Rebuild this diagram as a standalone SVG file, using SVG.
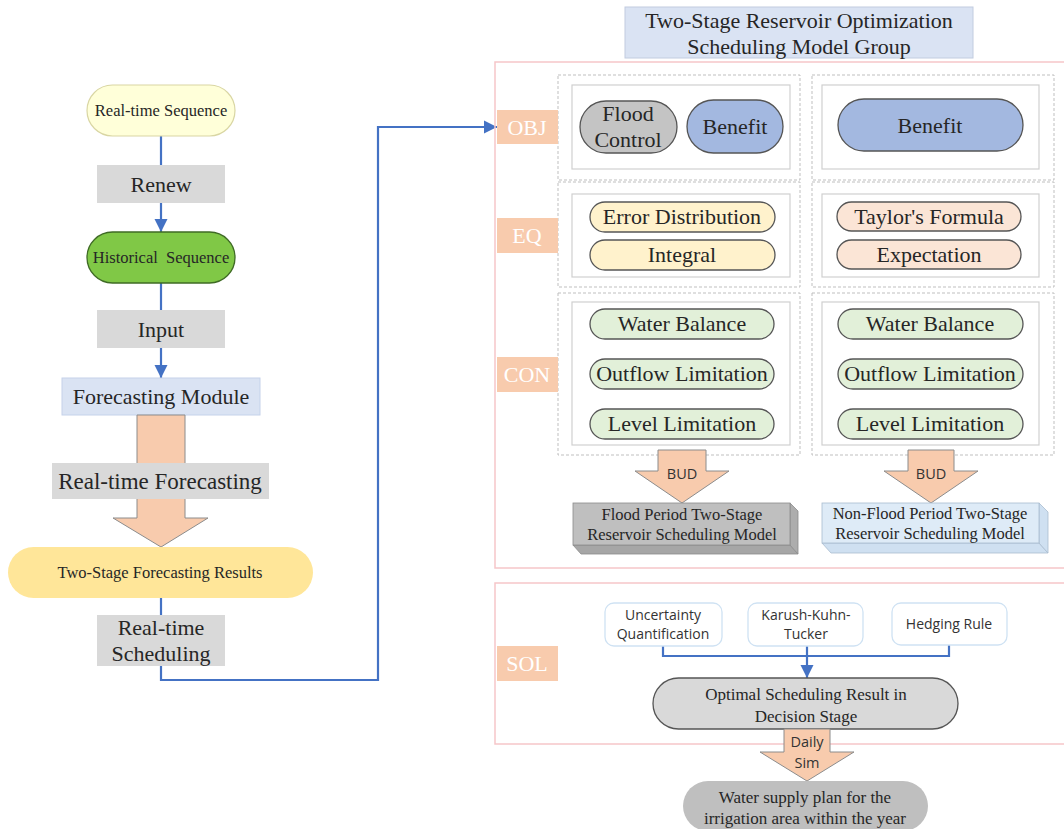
<svg xmlns="http://www.w3.org/2000/svg" width="1064" height="829" viewBox="0 0 1064 829">
<defs>
<marker id="ah" viewBox="0 0 10 10" refX="10" refY="5" markerWidth="6" markerHeight="6" orient="auto" markerUnits="strokeWidth">
<path d="M0,0 L10,5 L0,10 z" fill="#4472C4"/>
</marker>
<style>
.ser{font-family:"Liberation Serif","Times New Roman",serif;fill:#262626;text-anchor:middle}
.san{font-family:"Open Sans","Liberation Sans",sans-serif;fill:#333;text-anchor:middle}
.gray{fill:#D9D9D9}
.conn{fill:none;stroke:#4472C4;stroke-width:2.2}
.lbl{fill:#F8CBAD}
.lt{font-family:"Liberation Serif","Times New Roman",serif;fill:#fff;font-size:22px;text-anchor:middle}
.dash{fill:none;stroke:#BFBFBF;stroke-width:1;stroke-dasharray:3 2}
.inner{fill:#fff;stroke:#D0D0D0;stroke-width:1.2}
.pink{fill:none;stroke:#F6C6C9;stroke-width:1.5}
.pk{stroke:#555;stroke-width:1.3}
.peach{fill:#F8CBAD;stroke:#8C8C8C;stroke-width:1}
.sol{fill:#fff;stroke:#CFE2F3;stroke-width:1.3}
</style>
</defs>
<rect width="1064" height="829" fill="#fff"/>

<g id="connectors">
<line class="conn" x1="161" y1="136" x2="161" y2="165"/>
<line class="conn" x1="161" y1="203" x2="161" y2="232" marker-end="url(#ah)"/>
<line class="conn" x1="161" y1="283" x2="161" y2="310"/>
<line class="conn" x1="161" y1="348" x2="161" y2="378" marker-end="url(#ah)"/>
<line class="conn" x1="161" y1="598" x2="161" y2="615"/>
<polyline class="conn" points="161,666 161,680 378,680 378,127 497,127" marker-end="url(#ah)"/>
<polyline class="conn" points="663,646 663,656 949,656 949,645"/>
<line class="conn" x1="807" y1="646" x2="807" y2="678" marker-end="url(#ah)"/>
</g>

<g id="real-time-sequence">
<rect x="87" y="85" width="148" height="51" rx="25.5" fill="#FFFFD9" stroke="#D9D6A3" stroke-width="1.2"/>
<text class="ser" x="161" y="116" font-size="16.5">Real-time Sequence</text>
</g>
<g id="renew">
<rect class="gray" x="97" y="165" width="128" height="38"/>
<text class="ser" x="161" y="192" font-size="22">Renew</text>
</g>
<g id="historical-sequence">
<rect x="87" y="232" width="148" height="51" rx="25.5" fill="#80C846" stroke="#3F6B25" stroke-width="1.3"/>
<text class="ser" x="161" y="263" font-size="16.5" fill="#1a2a10" xml:space="preserve">Historical  Sequence</text>
</g>
<g id="input">
<rect class="gray" x="97" y="310" width="128" height="38"/>
<text class="ser" x="161" y="337" font-size="22">Input</text>
</g>
<g id="forecasting-module">
<rect x="62" y="378" width="198" height="37" fill="#DAE3F3" stroke="#C5D2EA" stroke-width="1"/>
<text class="ser" x="161" y="404" font-size="22">Forecasting Module</text>
</g>
<g id="forecast-arrow">
<path class="peach" d="M137,415 L185,415 L185,518 L208,518 L161,547 L113,518 L137,518 Z"/>
</g>
<g id="real-time-forecasting">
<rect class="gray" x="52" y="463" width="217" height="36"/>
<text class="ser" x="160" y="489" font-size="23">Real-time Forecasting</text>
</g>
<g id="two-stage-forecasting-results">
<rect x="8" y="547" width="305" height="51" rx="25.5" fill="#FFE699"/>
<text class="ser" x="160" y="578" font-size="16.5">Two-Stage Forecasting Results</text>
</g>
<g id="real-time-scheduling">
<rect class="gray" x="97" y="615" width="128" height="51"/>
<text class="ser" x="161" y="635" font-size="22">Real-time</text>
<text class="ser" x="161" y="661" font-size="22">Scheduling</text>
</g>

<g id="title">
<rect x="625" y="7" width="348" height="51" fill="#DAE3F3" stroke="#C2CCDF" stroke-width="1"/>
<text class="ser" x="799" y="28" font-size="22">Two-Stage Reservoir Optimization</text>
<text class="ser" x="799" y="54" font-size="22">Scheduling Model Group</text>
</g>

<g id="model-panel">
<rect class="pink" x="495" y="62" width="600" height="506"/>
<rect class="dash" x="558" y="75" width="242" height="105"/>
<rect class="dash" x="812" y="75" width="242" height="105"/>
<rect class="dash" x="558" y="182" width="242" height="105"/>
<rect class="dash" x="812" y="182" width="242" height="105"/>
<rect class="dash" x="558" y="293" width="242" height="162"/>
<rect class="dash" x="812" y="293" width="242" height="162"/>
<rect class="inner" x="572" y="85" width="218" height="84"/>
<rect class="inner" x="822" y="85" width="217" height="84"/>
<rect class="inner" x="572" y="194" width="218" height="83"/>
<rect class="inner" x="822" y="194" width="217" height="83"/>
<rect class="inner" x="572" y="302" width="218" height="143"/>
<rect class="inner" x="822" y="302" width="217" height="143"/>
</g>

<g id="label-obj">
<rect class="lbl" x="497" y="110" width="61" height="34"/>
<text class="lt" x="527" y="135">OBJ</text>
</g>
<g id="label-eq">
<rect class="lbl" x="497" y="218" width="61" height="35"/>
<text class="lt" x="527" y="243">EQ</text>
</g>
<g id="label-con">
<rect class="lbl" x="497" y="357" width="61" height="35"/>
<text class="lt" x="527" y="382">CON</text>
</g>

<g id="flood-control">
<rect class="pk" x="580" y="101" width="97" height="52" rx="26" fill="#C4C4C4"/>
<text class="ser" x="628" y="121" font-size="22">Flood</text>
<text class="ser" x="628" y="147" font-size="22">Control</text>
</g>
<g id="benefit-flood">
<rect class="pk" x="687" y="100" width="96" height="53" rx="26.5" fill="#A3B8E0"/>
<text class="ser" x="735" y="134" font-size="22">Benefit</text>
</g>
<g id="benefit-nonflood">
<rect class="pk" x="838" y="99" width="185" height="52" rx="26" fill="#A3B8E0"/>
<text class="ser" x="930" y="133" font-size="22">Benefit</text>
</g>
<g id="error-distribution">
<rect class="pk" x="590" y="202" width="185" height="30" rx="15" fill="#FFF2CC"/>
<text class="ser" x="682" y="224" font-size="22">Error Distribution</text>
</g>
<g id="integral">
<rect class="pk" x="590" y="240" width="185" height="30" rx="15" fill="#FFF2CC"/>
<text class="ser" x="682" y="262" font-size="22">Integral</text>
</g>
<g id="taylors-formula">
<rect class="pk" x="837" y="202" width="184" height="29" rx="14.5" fill="#FBE5D6"/>
<text class="ser" x="929" y="224" font-size="22">Taylor's Formula</text>
</g>
<g id="expectation">
<rect class="pk" x="837" y="240" width="184" height="29" rx="14.5" fill="#FBE5D6"/>
<text class="ser" x="929" y="262" font-size="22">Expectation</text>
</g>

<g id="water-balance-1">
<rect class="pk" x="590" y="309" width="184" height="30" rx="15" fill="#E2F0D9"/>
<text class="ser" x="682" y="331" font-size="22">Water Balance</text>
</g>
<g id="outflow-limitation-1">
<rect class="pk" x="590" y="359" width="184" height="30" rx="15" fill="#E2F0D9"/>
<text class="ser" x="682" y="381" font-size="22">Outflow Limitation</text>
</g>
<g id="level-limitation-1">
<rect class="pk" x="590" y="409" width="184" height="30" rx="15" fill="#E2F0D9"/>
<text class="ser" x="682" y="431" font-size="22">Level Limitation</text>
</g>
<g id="water-balance-2">
<rect class="pk" x="838" y="309" width="185" height="30" rx="15" fill="#E2F0D9"/>
<text class="ser" x="930" y="331" font-size="22">Water Balance</text>
</g>
<g id="outflow-limitation-2">
<rect class="pk" x="838" y="359" width="185" height="30" rx="15" fill="#E2F0D9"/>
<text class="ser" x="930" y="381" font-size="22">Outflow Limitation</text>
</g>
<g id="level-limitation-2">
<rect class="pk" x="838" y="409" width="185" height="30" rx="15" fill="#E2F0D9"/>
<text class="ser" x="930" y="431" font-size="22">Level Limitation</text>
</g>

<g id="bud-left">
<path class="peach" d="M658,450 L706,450 L706,471 L729,471 L682,503 L635,471 L658,471 Z"/>
<text class="san" x="682" y="479" font-size="14.5" font-weight="500" fill="#262626">BUD</text>
</g>
<g id="bud-right">
<path class="peach" d="M908,450 L954,450 L954,471 L978,471 L931,503 L884,471 L908,471 Z"/>
<text class="san" x="931" y="479" font-size="14.5" font-weight="500" fill="#262626">BUD</text>
</g>

<g id="flood-period-model">
<polygon points="573,545 790,545 798,554 581,554" fill="#A6A6A6" stroke="#8C8C8C" stroke-width="0.8"/>
<polygon points="790,503 798,511 798,554 790,545" fill="#ADADAD" stroke="#8C8C8C" stroke-width="0.8"/>
<rect x="573" y="503" width="217" height="42" fill="#BFBFBF" stroke="#8C8C8C" stroke-width="0.8"/>
<text class="ser" x="682" y="520" font-size="16.5">Flood Period Two-Stage</text>
<text class="ser" x="682" y="540" font-size="16.5">Reservoir Scheduling Model</text>
</g>
<g id="non-flood-period-model">
<polygon points="822,543 1039,543 1048,553 831,553" fill="#CFE0F1" stroke="#A9BCCF" stroke-width="0.8"/>
<polygon points="1039,503 1048,512 1048,553 1039,543" fill="#CFE0F1" stroke="#A9BCCF" stroke-width="0.8"/>
<rect x="822" y="503" width="217" height="40" fill="#DEEBF7" stroke="#A9BCCF" stroke-width="0.8"/>
<text class="ser" x="930" y="519" font-size="16.5">Non-Flood Period Two-Stage</text>
<text class="ser" x="930" y="539" font-size="16.5">Reservoir Scheduling Model</text>
</g>

<g id="sol-panel">
<rect class="pink" x="495" y="583" width="600" height="161"/>
</g>
<g id="label-sol">
<rect class="lbl" x="497" y="646" width="61" height="35"/>
<text class="lt" x="527" y="671">SOL</text>
</g>
<g id="uncertainty-quantification">
<rect class="sol" x="605" y="603" width="117" height="43" rx="9"/>
<text class="san" x="663" y="620" font-size="14">Uncertainty</text>
<text class="san" x="663" y="639" font-size="14">Quantification</text>
</g>
<g id="karush-kuhn-tucker">
<rect class="sol" x="748" y="603" width="115" height="43" rx="9"/>
<text class="san" x="806" y="620" font-size="14">Karush-Kuhn-</text>
<text class="san" x="806" y="639" font-size="14">Tucker</text>
</g>
<g id="hedging-rule">
<rect class="sol" x="892" y="603" width="115" height="42" rx="9"/>
<text class="san" x="949" y="629" font-size="14">Hedging Rule</text>
</g>
<g id="optimal-scheduling-result">
<rect class="pk" x="653" y="678" width="305" height="51" rx="25.5" fill="#D9D9D9"/>
<text class="ser" x="806" y="700" font-size="17">Optimal Scheduling Result in</text>
<text class="ser" x="806" y="722" font-size="17">Decision Stage</text>
</g>
<g id="daily-sim-arrow">
<path class="peach" d="M784,729 L830,729 L830,752 L854,752 L807,781 L760,752 L784,752 Z"/>
<text class="san" x="807" y="747" font-size="14.5" fill="#262626">Daily</text>
<text class="san" x="807" y="768" font-size="14.5" fill="#262626">Sim</text>
</g>
<g id="water-supply-plan">
<rect x="683" y="781" width="245" height="50" rx="25" fill="#BFBFBF"/>
<text class="ser" x="805" y="803" font-size="17">Water supply plan for the</text>
<text class="ser" x="805" y="824" font-size="17">irrigation area within the year</text>
</g>
</svg>
